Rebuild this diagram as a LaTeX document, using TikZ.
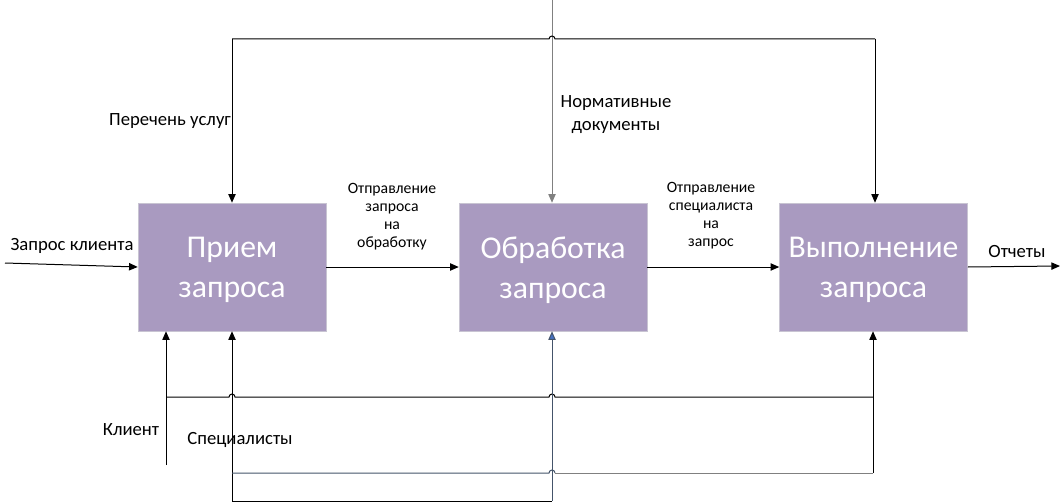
\documentclass[tikz,border=0pt]{standalone}
\usepackage{fontspec}
\setmainfont{Carlito}
\usetikzlibrary{arrows.meta}
\definecolor{boxfill}{RGB}{169,154,192}
\definecolor{boxline}{RGB}{200,196,210}
\definecolor{slate}{RGB}{68,84,106}
\definecolor{tipblue}{RGB}{68,114,196}
\begin{document}
\begin{tikzpicture}[x=0.75pt,y=-0.75pt,
  proc/.style={draw=boxline,fill=boxfill,minimum width=141pt,minimum height=96pt,inner sep=0pt},
  proctxt/.style={text=white,align=center,font=\fontsize{23.8}{30}\selectfont,inner sep=0pt},
  lbl/.style={align=center,font=\fontsize{14}{17}\selectfont,inner sep=0pt},
  sml/.style={align=center,font=\fontsize{11.8}{13.5}\selectfont,inner sep=0pt},
  conn/.style={line width=0.75pt},
  arr/.style={conn,-{Triangle[length=6.5pt,width=5.5pt]}}]
\useasboundingbox (0,0) rectangle (1063,503);
% boxes
\node[proc] (b1) at (232,267) {};
\node[proc] (b2) at (553,267) {};
\node[proc] (b3) at (873.5,267) {};
\node[proctxt] (t1) at (232,270) {Прием\\запроса};
\node[proctxt] (t2) at (553,270) {Обработка\\запроса};
\node[proctxt] (t3) at (873.5,270) {Выполнение\\запроса};
% coordinates
\coordinate (inL) at (5,263);
\coordinate (outR) at (1060,266);
\coordinate (topN) at (552,0);
\coordinate (tl) at (232,39);
\coordinate (tr) at (875,39);
\coordinate (kl) at (166,465);
\coordinate (kh) at (166,397);
\coordinate (kr) at (873,397);
\coordinate (sb) at (873,473);
\coordinate (sl) at (232,501);
\coordinate (sm) at (232,473);
\coordinate (nb) at (552,501);
% horizontal flow
\draw[arr] (inL) -- (b1.west |- 0,267);
\draw[arr] (b1.east |- 0,267) -- (b2.west |- 0,267);
\draw[arr] (b2.east |- 0,267) -- (b3.west |- 0,267);
\draw[arr] (b3.east |- 0,267) -- (outR);
% top controls
\draw[arr,draw=gray] (topN) -- (b2.north -| topN);
\draw[arr] (tl) -- (tl |- b1.north);
\draw[arr] (tr) -- (tr |- b3.north);
\draw[conn] (tl) -- (549,39) arc[start angle=180,end angle=0,radius=2.25pt] -- (tr);
% bottom mechanisms
\draw[arr] (kl) -- (kl |- b1.south);
\draw[arr] (sl) -- (sl |- b1.south);
\draw[conn] (kh) -- (229,397) arc[start angle=180,end angle=0,radius=2.25pt] -- (549,397) arc[start angle=180,end angle=0,radius=2.25pt] -- (kr);
\draw[arr] (sb) -- (sb |- b3.south);
\draw[conn,draw=slate] (sm) -- (549,473) arc[start angle=180,end angle=0,radius=2.25pt];
\draw[conn,draw=gray] (555,473) -- (sb);
\draw[conn] (sl) -- (nb);
\draw[conn,draw=slate,-{Triangle[length=6.5pt,width=5.5pt,fill=tipblue]}] (nb) -- (nb |- b2.south);
% labels
\node[lbl] (l1) at (72,246) {Запрос клиента};
\node[lbl] (l2) at (170,121) {Перечень услуг};
\node[lbl] (l3) at (616,114.5) {Нормативные\\документы};
\node[sml] (l4) at (392,217) {Отправление\\запроса\\на\\обработку};
\node[sml] (l5) at (711,216) {Отправление\\специалиста\\на\\запрос};
\node[lbl] (l6) at (1017,252) {Отчеты};
\node[lbl] (l7) at (131,430) {Клиент};
\node[lbl] (l8) at (240,440) {Специалисты};
\end{tikzpicture}
\end{document}
